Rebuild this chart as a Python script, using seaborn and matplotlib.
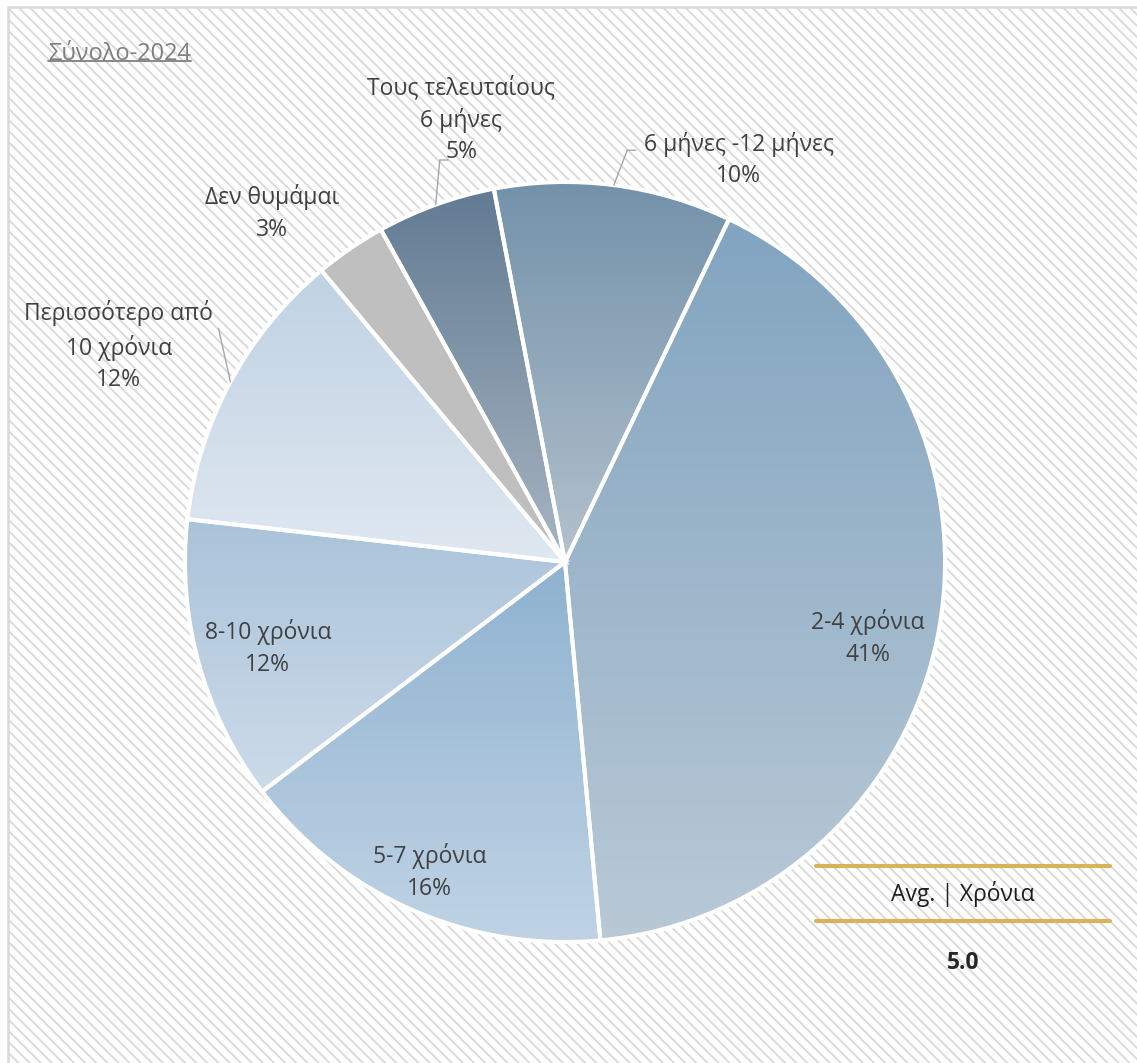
import numpy as np
import matplotlib
matplotlib.use('Agg')
import matplotlib.pyplot as plt
import matplotlib.patches as mpatches
import seaborn as sns

# --- data ---
categories = ['6 μήνες -12 μήνες', '2-4 χρόνια', '5-7 χρόνια', '8-10 χρόνια',
              'Περισσότερο από\n10 χρόνια', 'Δεν θυμάμαι', 'Τους τελευταίους\n6 μήνες']
shares = [10, 41, 16, 12, 12, 3, 5]
title_text = 'Σύνολο-2024'
avg_label = 'Avg. | Χρόνια'
avg_years = 5.0

# gradient colours per slice (top -> bottom)
grad_colors = [('#7392aa', '#b3c1cd'), ('#82a4c0', '#b9c9d6'), ('#8fb2d0', '#c0d3e5'),
               ('#aac3da', '#cddbe9'), ('#c0d2e3', '#e0e8f1'), ('#bfbfbf', '#bfbfbf'),
               ('#627b93', '#a8b5c2')]
# label placement: (radius, angle offset from the slice middle), leader end (r, angle, hook) or None
label_place = [(1.153, -16.0), (0.822, -4.0), (0.890, 0.2), (0.814, 0.8),
               (1.304, 2.5), (1.199, 5.6), (1.195, -6.7)]
leaders = [(1.096, 81.4, 1), None, None, None, (1.10, 146.0, 0), None, (1.108, 107.3, 1)]

sns.set_theme(style='white')
plt.rcParams['font.family'] = ['Open Sans', 'DejaVu Sans']
plt.rcParams['hatch.linewidth'] = 1.3
plt.rcParams['hatch.color'] = '#e1e1e1'

W, H = 1137, 1063
cx, cy, R = 565, 562, 380
fig = plt.figure(figsize=(W / 100, H / 100), dpi=100)
ax = fig.add_axes([0, 0, 1, 1])

def px(x, y):
    return (x - cx) / R, (cy - y) / R

# background with hatch and border
x0, y0 = px(8, 7)
x1, y1 = px(W + 5, H + 5)
bg = mpatches.Rectangle((x0, y1), x1 - x0, y0 - y1, facecolor='white', edgecolor='#d9d9d9',
                        hatch='\\\\\\', lw=1.8, zorder=0)
ax.add_patch(bg)

wedges, _ = ax.pie(shares, startangle=100.8, counterclock=False, radius=1.0,
                   wedgeprops=dict(facecolor='none', edgecolor='white', linewidth=2.9),
                   frame=True)
ax.set_xlim(-cx / R, (W - cx) / R)
ax.set_ylim(-(H - cy) / R, cy / R)
ax.set_aspect('equal')
ax.axis('off')

grad = np.linspace(0, 1, 256).reshape(-1, 1)
for w, (top, bot) in zip(wedges, grad_colors):
    w.set_zorder(2)
    ext = w.get_path().get_extents()
    cmap = sns.blend_palette([top, bot], n_colors=256, as_cmap=True)
    im = ax.imshow(grad, cmap=cmap, extent=(ext.x0, ext.x1, ext.y0, ext.y1),
                   origin='upper', aspect='auto', zorder=1, interpolation='bilinear')
    im.set_clip_path(w)

for w, cat, share, (r, off), ld in zip(wedges, categories, shares, label_place, leaders):
    mid = (w.theta1 + w.theta2) / 2
    ang = np.deg2rad(mid + off)
    ax.text(r * np.cos(ang), r * np.sin(ang), f'{cat}\n{share}%', ha='center', va='center',
            multialignment='center', fontsize=16.5, color='#404040', linespacing=1.42, zorder=4)
    if ld is not None:
        lr, la, sgn = ld
        sx, sy = 1.0 * np.cos(np.deg2rad(mid)), 1.0 * np.sin(np.deg2rad(mid))
        ex, ey = lr * np.cos(np.deg2rad(la)), lr * np.sin(np.deg2rad(la))
        ax.plot([sx, ex, ex + sgn * 0.022], [sy, ey, ey], color='#a6a6a6', lw=1.0, zorder=3)

# title with underline
tx, ty = px(48, 54)
t = ax.text(tx, ty, title_text, ha='left', va='center', fontsize=17, color='#7f7f7f', zorder=4)
fig.canvas.draw()
bb = t.get_window_extent().transformed(ax.transData.inverted())
ax.plot([bb.x0, bb.x1], [bb.y0 + 0.012, bb.y0 + 0.012], color='#7f7f7f', lw=1.3, zorder=4)

# average box
lx0, ly0 = px(816, 866)
lx1, ly1 = px(1110, 921)
ax.plot([lx0, lx1], [ly0, ly0], color='#d9b35b', lw=3, solid_capstyle='round', zorder=4)
ax.plot([lx0, lx1], [ly1, ly1], color='#d9b35b', lw=3, solid_capstyle='round', zorder=4)
ax.text(*px(963, 894), avg_label, ha='center', va='center', fontsize=16.5, color='#1f1f1f', zorder=4)
ax.text(*px(963, 963), f'{avg_years:.1f}', ha='center', va='center', fontsize=16.5,
        fontweight='bold', color='#262626', zorder=4)

fig.savefig('out.png', dpi=100)
